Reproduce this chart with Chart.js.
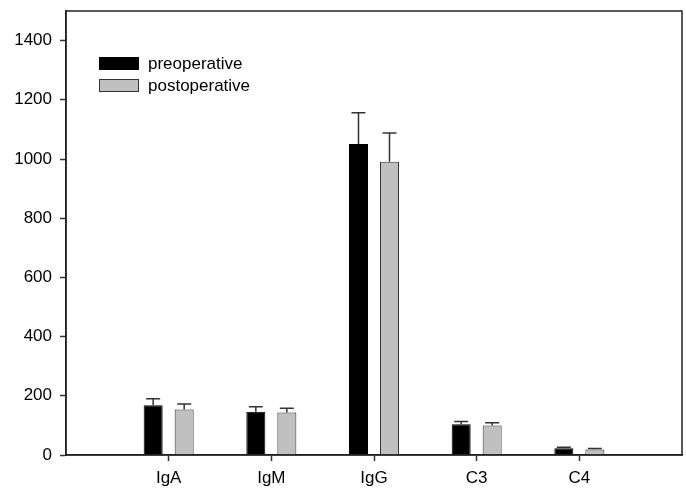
<!DOCTYPE html>
<html>
<head>
<meta charset="utf-8">
<script src="https://cdn.jsdelivr.net/npm/chart.js@4"></script>
<style>
  html, body { margin: 0; padding: 0; background: #fff; }
  #wrap { width: 686px; height: 488px; }
</style>
</head>
<body>
<div id="wrap"><canvas id="chart" width="686" height="488"></canvas></div>
<script>
// Serum immunoglobulins / complement, pre vs post operation
const categories = ['IgA', 'IgM', 'IgG', 'C3', 'C4'];
const preValues = [168, 146, 1051, 104, 23];
const preErrors = [22, 17, 105, 9, 3];
const postValues = [154, 144, 991, 100, 19];
const postErrors = [18, 14, 97, 9, 3];
const yTicks = [0, 200, 400, 600, 800, 1000, 1200, 1400];

const FONT = "'Liberation Sans', Arial, sans-serif";

// empty slots at both ends so the categories sit at 1..5 of 0..6
const labels = [''].concat(categories, ['']);
const pad = arr => [null].concat(arr, [null]);

// error bars (upper whisker only)
const errorBars = {
    id: 'errorBars',
    afterDatasetsDraw(chart) {
        const ctx = chart.ctx;
        const yScale = chart.scales.y;
        chart.data.datasets.forEach((ds, di) => {
            const meta = chart.getDatasetMeta(di);
            meta.data.forEach((bar, i) => {
                const v = ds.data[i];
                const e = ds.errors[i];
                if (v == null || e == null) return;
                const yTop = yScale.getPixelForValue(v + e);
                const yBar = yScale.getPixelForValue(v);
                ctx.save();
                ctx.strokeStyle = '#333';
                ctx.lineWidth = 1.5;
                ctx.beginPath();
                ctx.moveTo(bar.x, yBar);
                ctx.lineTo(bar.x, yTop);
                ctx.moveTo(bar.x - 7, yTop);
                ctx.lineTo(bar.x + 7, yTop);
                ctx.stroke();
                ctx.restore();
            });
        });
    }
};

// box round the plot and the legend inside it
const frameAndLegend = {
    id: 'frameAndLegend',
    afterDraw(chart) {
        const ctx = chart.ctx;
        const a = chart.chartArea;
        ctx.save();
        ctx.strokeStyle = '#222';
        ctx.lineWidth = 1.5;
        ctx.strokeRect(a.left, a.top, a.right - a.left, a.bottom - a.top);

        const x = a.left + 33;
        let y = a.top + 46;
        chart.data.datasets.forEach(ds => {
            ctx.fillStyle = ds.backgroundColor;
            ctx.fillRect(x, y, 40, 13);
            ctx.strokeStyle = ds.borderColor;
            ctx.lineWidth = 1;
            ctx.strokeRect(x + 0.5, y + 0.5, 39, 12);
            ctx.fillStyle = '#000';
            ctx.font = '17px ' + FONT;
            ctx.textBaseline = 'middle';
            ctx.fillText(ds.label, x + 49, y + 7);
            y += 22;
        });
        ctx.restore();
    }
};

new Chart(document.getElementById('chart'), {
    type: 'bar',
    data: {
        labels: labels,
        datasets: [{
            label: 'preoperative',
            data: pad(preValues),
            errors: pad(preErrors),
            backgroundColor: '#000000',
            borderColor: '#000000',
            borderWidth: 1
        }, {
            label: 'postoperative',
            data: pad(postValues),
            errors: pad(postErrors),
            backgroundColor: '#c0c0c0',
            borderColor: '#333333',
            borderWidth: 1
        }]
    },
    options: {
        responsive: false,
        animation: false,
        devicePixelRatio: 1,
        categoryPercentage: 0.604,
        barPercentage: 0.613,
        layout: { padding: { top: 11, right: 4, left: 0, bottom: 0 } },
        plugins: {
            legend: { display: false },
            tooltip: { enabled: false }
        },
        scales: {
            x: {
                offset: false,
                grid: {
                    offset: false,
                    drawOnChartArea: false,
                    drawTicks: true,
                    tickLength: 6,
                    tickColor: c => (c.index === 0 || c.index === labels.length - 1) ? 'rgba(0,0,0,0)' : '#333',
                    tickWidth: 1.5
                },
                border: { color: '#222', width: 1.5 },
                ticks: {
                    color: '#000',
                    font: { family: FONT, size: 17 },
                    padding: 7,
                    maxRotation: 0,
                    autoSkip: false
                },
                afterFit: s => {
                    s.height = 33;
                    s.paddingLeft = 0;
                    s.paddingRight = 0;
                }
            },
            y: {
                min: 0,
                max: 1500,
                afterBuildTicks: s => { s.ticks = yTicks.map(v => ({ value: v })); },
                grid: {
                    drawOnChartArea: false,
                    drawTicks: true,
                    tickLength: 6,
                    tickColor: '#333',
                    tickWidth: 1.5
                },
                border: { color: '#222', width: 1.5 },
                ticks: {
                    color: '#000',
                    font: { family: FONT, size: 17 },
                    padding: 8,
                    callback: v => String(v)
                },
                afterFit: s => {
                    s.width = 66;
                    s.paddingTop = 0;
                    s.paddingBottom = 0;
                }
            }
        }
    },
    plugins: [errorBars, frameAndLegend]
});
</script>
</body>
</html>
